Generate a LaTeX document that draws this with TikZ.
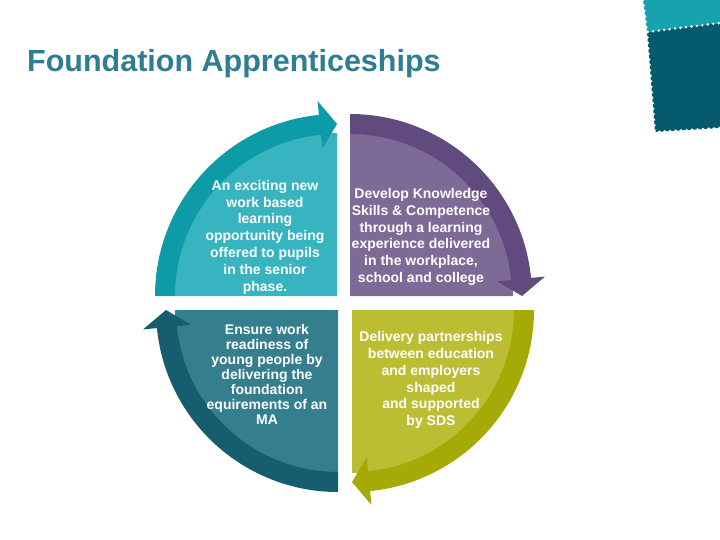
\documentclass[tikz,border=0pt]{standalone}
\usepackage{fontspec}
\setmainfont{Liberation Sans}
\usepackage{tikz}
\usetikzlibrary{calc}
\definecolor{titleteal}{HTML}{2E7D93}
\definecolor{tealfill}{HTML}{38B4C1}
\definecolor{tealarrow}{HTML}{0E9BA8}
\definecolor{plumfill}{HTML}{7E6A97}
\definecolor{plumarrow}{HTML}{604A7E}
\definecolor{petrolfill}{HTML}{357E8D}
\definecolor{petrolarrow}{HTML}{165E6F}
\definecolor{olivefill}{HTML}{BBBE33}
\definecolor{olivearrow}{HTML}{A6AA06}
\definecolor{stampa}{HTML}{17A2B0}
\definecolor{stampb}{HTML}{055A6E}
\tikzset{
  title/.style={text=titleteal, font=\bfseries\fontsize{30.5}{36}\selectfont, inner sep=0pt},
  lab/.style={text=white, font=\bfseries\fontsize{14}{16.8}\selectfont, align=center, inner sep=0pt},
  labtight/.style={lab, font=\bfseries\fontsize{14}{15}\selectfont},
  perf/.style={draw=white, line width=2.8pt, line cap=round, dash pattern=on 0pt off 5.5pt},
}

\begin{document}
\begin{tikzpicture}[x=1pt,y=1pt]
  \useasboundingbox[fill=white] (0,0) rectangle (720,-540);

  % corner stamps
  \fill[stampa] (643,0) -- (720,0) -- (720,-23) -- (647,-32) -- cycle;
  \fill[stampb] (647,-32) -- (720,-23) -- (720,-128) -- (655,-132) -- cycle;
  \draw[perf] (643,0) -- (647,-32) -- (720,-23);
  \draw[perf] (647,-32) -- (655,-132) -- (720,-128);

  \node[title, anchor=base west] (title) at (27,-72) {Foundation Apprenticeships};

  % quadrant: centre x / centre y / start angle / fill / arrow
  \foreach \cx/\cy/\a/\fc/\ac in {337/-296/180/tealfill/tealarrow,
                                  350/-296/90/plumfill/plumarrow,
                                  338/-310/270/petrolfill/petrolarrow,
                                  352/-310/360/olivefill/olivearrow}{
    \pgfmathsetmacro{\b}{\a-84.3}
    \pgfmathsetmacro{\t}{\a-90}
    \begin{scope}[shift={(\cx,\cy)}]
      \fill[\fc] (0,0) -- (\a:163) arc[start angle=\a, end angle=\t, radius=163] -- cycle;
      \fill[\ac] (\a:182) arc[start angle=\a, end angle=\b, radius=182]
        -- (\b:196) -- (\t:172) -- (\b:148) -- (\b:162)
        arc[start angle=\b, end angle=\a, radius=162] -- cycle;
    \end{scope}
  }

  \node[lab] (tl) at (265,-237) {An exciting new\\work based\\learning\\opportunity being\\offered to pupils\\in the senior\\phase.};
  \node[lab] (tr) at (421,-237) {Develop Knowledge\\Skills \& Competence\\through a learning\\experience delivered\\in the workplace,\\school and college};
  \node[labtight] (bl) at (267,-374) {Ensure work\\readiness of\\young people by\\delivering the\\foundation\\equirements of an\\MA};
  \node[lab] (br) at (431,-380) {Delivery partnerships\\between education\\and employers\\shaped\\and supported\\by SDS};
\end{tikzpicture}
\end{document}
